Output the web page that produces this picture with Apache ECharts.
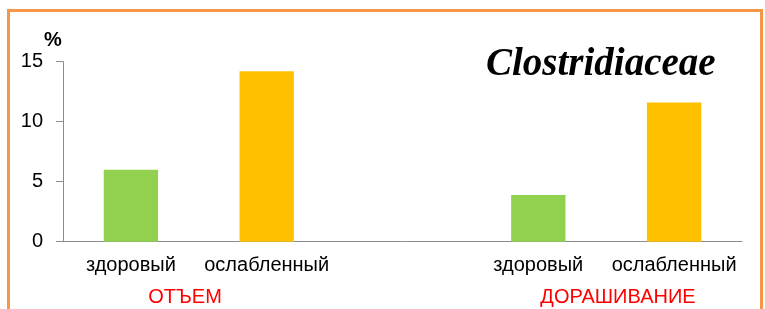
<!DOCTYPE html>
<html>
<head>
<meta charset="utf-8">
<script src="https://cdn.jsdelivr.net/npm/echarts@6/dist/echarts.min.js"></script>
<style>
  html, body { margin: 0; padding: 0; background: #fff; }
  #main { width: 765px; height: 309px; }
</style>
</head>
<body>
<div id="main"></div>
<script>
// categories on the x axis (the empty one is the gap between the two periods)
var categories = ['здоровый', 'ослабленный', '', 'здоровый', 'ослабленный'];
// Clostridiaceae, %
var values = [6.0, 14.2, null, 3.9, 11.6];
// period captions under the axis
var periods = ['ОТЪЕМ', 'ДОРАШИВАНИЕ'];
var yTicks = {min: 0, max: 15, interval: 5};

var colorOf = {'здоровый': '#92D050', 'ослабленный': '#FFC000'};
var axisGray = '#8C8C8C';
var labelFont = 'Liberation Sans';

var chart = echarts.init(document.getElementById('main'));

var option = {
    animation: false,
    title: {
        text: 'Clostridiaceae',
        left: 481,
        top: 40,
        textStyle: {
            fontFamily: 'Liberation Serif',
            fontStyle: 'italic',
            fontWeight: 'bold',
            fontSize: 39,
            color: '#000'
        }
    },
    grid: {left: 63, right: 23, top: 61.7, bottom: 67.3, containLabel: false},
    xAxis: {
        type: 'category',
        data: categories,
        axisLine: {lineStyle: {color: axisGray, width: 1}},
        axisTick: {length: 6, lineStyle: {color: axisGray}},
        axisLabel: {
            interval: 0,
            margin: 14,
            color: '#000',
            fontFamily: labelFont,
            fontSize: 20
        }
    },
    yAxis: {
        type: 'value',
        min: yTicks.min,
        max: yTicks.max,
        interval: yTicks.interval,
        splitLine: {show: false},
        axisLine: {show: true, lineStyle: {color: axisGray, width: 1}},
        axisTick: {show: true, length: 7, lineStyle: {color: axisGray}},
        axisLabel: {
            margin: 20,
            color: '#000',
            fontFamily: labelFont,
            fontSize: 20
        }
    },
    series: [{
        type: 'bar',
        barWidth: '40%',
        data: values,
        itemStyle: {
            color: function (p) { return colorOf[p.name]; }
        }
    }],
    graphic: [
        // orange frame round the chart
        {
            type: 'rect',
            shape: {x: 8.5, y: 10.5, width: 753, height: 330},
            style: {fill: null, stroke: '#F79646', lineWidth: 3},
            silent: true
        },
        {
            type: 'text', left: 44, top: 30,
            style: {text: '%', font: 'bold 20px "Liberation Sans"', fill: '#000'}
        },
        {
            type: 'text', x: 185, y: 297,
            style: {text: periods[0], fill: '#FF0000', font: '20px "Liberation Sans"',
                    align: 'center', verticalAlign: 'middle'}
        },
        {
            type: 'text', x: 618, y: 297,
            style: {text: periods[1], fill: '#FF0000', font: '20px "Liberation Sans"',
                    align: 'center', verticalAlign: 'middle'}
        }
    ]
};

chart.setOption(option);
</script>
</body>
</html>
